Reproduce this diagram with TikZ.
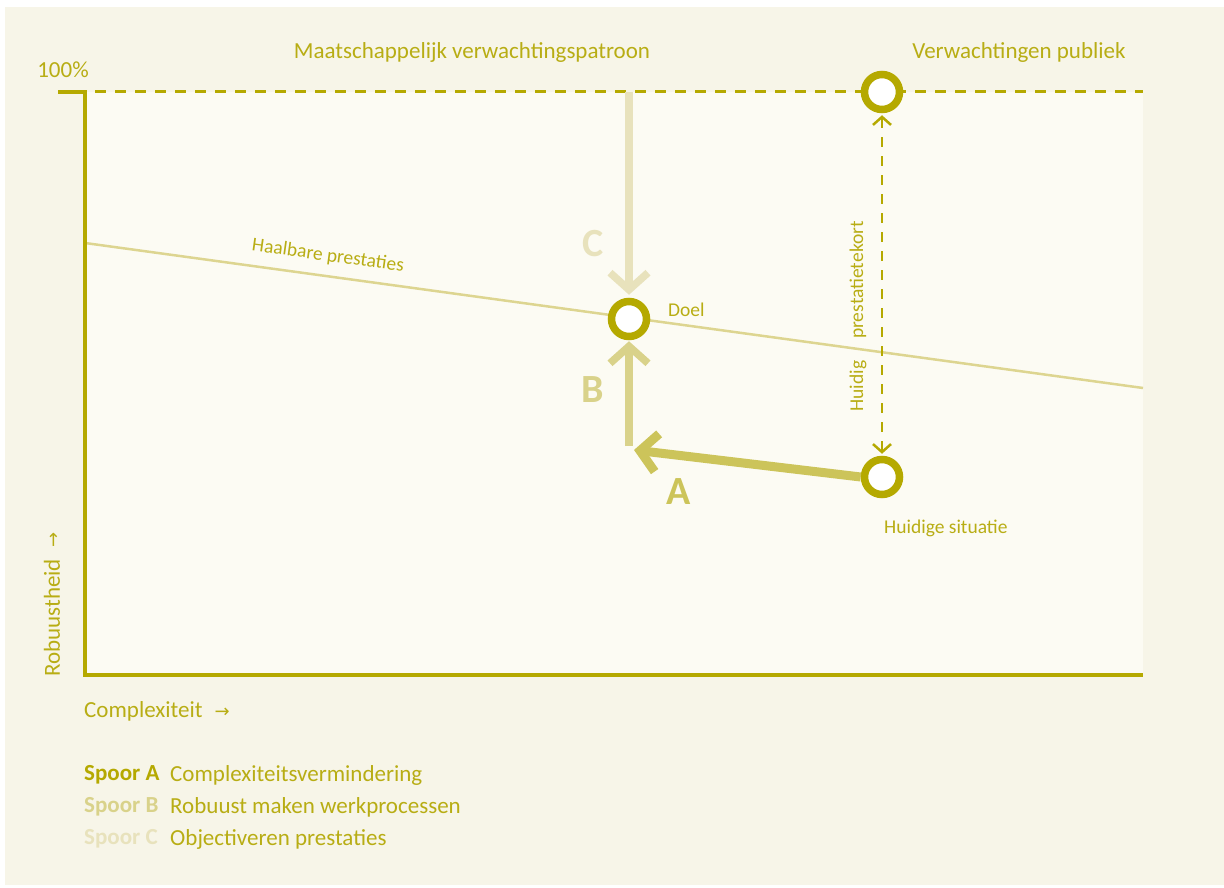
\documentclass[tikz,border=0pt]{standalone}
\usepackage{fontspec}
\setmainfont{Carlito}
\newfontfamily\symf{DejaVu Sans}
\usetikzlibrary{arrows.meta}
\definecolor{olive}{RGB}{181,169,0}
\definecolor{txt}{RGB}{184,173,20}
\definecolor{outerbg}{RGB}{247,245,232}
\definecolor{innerbg}{RGB}{252,251,243}
\definecolor{haal}{RGB}{221,213,144}
\definecolor{colA}{RGB}{204,196,90}
\definecolor{colB}{RGB}{217,210,138}
\definecolor{colC}{RGB}{232,226,188}
\tikzset{
  ring/.style={circle,draw=olive,line width=7.5pt,fill=white,minimum size=35pt,inner sep=0pt},
  lbl/.style={text=txt,inner sep=0pt,font=\fontsize{19.5}{22}\selectfont},
  lblbig/.style={text=txt,inner sep=0pt,font=\fontsize{23}{26}\selectfont},
  big/.style={inner sep=0pt,font=\fontsize{40}{44}\selectfont\bfseries},
  chev/.style={-{Straight Barb[length=17pt,width=38pt]}},
  smallchev/.style={{Straight Barb[length=8pt,width=18pt]}-{Straight Barb[length=8pt,width=18pt]}}
}
\newcommand{\arr}{{\symf\fontsize{18}{20}\selectfont →}}
\begin{document}
\begin{tikzpicture}[x=1pt,y=-1pt]
\useasboundingbox (0,0) rectangle (1224,888);
\fill[outerbg] (5,7) rectangle (1224,885);
\fill[innerbg] (85,92) rectangle (1143,675);
% haalbare line
\coordinate (h1) at (85,243);
\coordinate (h2) at (1143,388);
\draw[haal,line width=2.5pt] (h1) -- (h2);
\node[lbl,rotate=-7.8] (haaltxt) at (328,256) {Haalbare prestaties};
% axes
\coordinate (tl0) at (58,92);
\coordinate (tl) at (85,92);
\coordinate (tr) at (1143,92);
\coordinate (bl) at (85,675);
\coordinate (br) at (1143,675);
\draw[olive,line width=3.5pt] (tl0) -- (tl) -- (bl) -- (br);
\draw[olive,line width=3pt,dash pattern=on 11pt off 9pt] (tl) ++(10,0) -- (tr);
% nodes
\node[ring] (doel) at (629,319) {};
\node[ring] (top) at (882,92) {};
\node[ring] (cur) at (882,477) {};
\coordinate (cstart) at (629,92);
\coordinate (corner) at (629,450);
\coordinate (atip) at (634,450);
% arrows
\draw[colC,line width=7.5pt,chev,shorten >=3pt] (cstart) -- (doel.north);
\draw[colA,line width=9pt,chev] (cur.west) -- (atip);
\draw[colB,line width=7.5pt,chev,shorten >=1pt] ([yshift=4pt]corner) -- (doel.south);
\draw[olive,line width=2.5pt,dash pattern=on 10pt off 9pt,smallchev,shorten <=2pt,shorten >=2pt] (top.south) -- (cur.north);
% labels
\node[big,text=colC] (Clbl) at (593,244) {C};
\node[big,text=colB] (Blbl) at (593,390) {B};
\node[big,text=colA] (Albl) at (679,492) {A};
\node[lbl,anchor=west] (doeltxt) at (668,310) {Doel};
\node[lbl,anchor=west] (curtxt) at (884,528) {Huidige situatie};
\node[lbl,rotate=90] (hp1) at (858,386) {Huidig};
\node[lbl,rotate=90] (hp2) at (858,280) {prestatietekort};
\node[lblbig] (mvp) at (472,52) {Maatschappelijk verwachtingspatroon};
\node[lblbig] (vp) at (1019,52) {Verwachtingen publiek};
\node[lblbig] (pct) at (63,70) {100\%};
\node[lblbig,anchor=west] (cx) at (84,711) {Complexiteit\hspace{12pt}\arr};
\node[lblbig,anchor=west,rotate=90] (rb) at (52,677) {Robuustheid\hspace{12pt}\arr};
% legend
\node[lblbig,font=\fontsize{23}{26}\selectfont\bfseries,text=olive,anchor=west] (sa) at (84,775) {Spoor A};
\node[lblbig,font=\fontsize{23}{26}\selectfont\bfseries,text=colB,anchor=west] (sb) at (84,807) {Spoor B};
\node[lblbig,font=\fontsize{23}{26}\selectfont\bfseries,text=colC,anchor=west] (sc) at (84,839) {Spoor C};
\node[lblbig,anchor=west] (la) at (170,775) {Complexiteitsvermindering};
\node[lblbig,anchor=west] (lb) at (170,807) {Robuust maken werkprocessen};
\node[lblbig,anchor=west] (lc) at (170,839) {Objectiveren prestaties};
\end{tikzpicture}
\end{document}
